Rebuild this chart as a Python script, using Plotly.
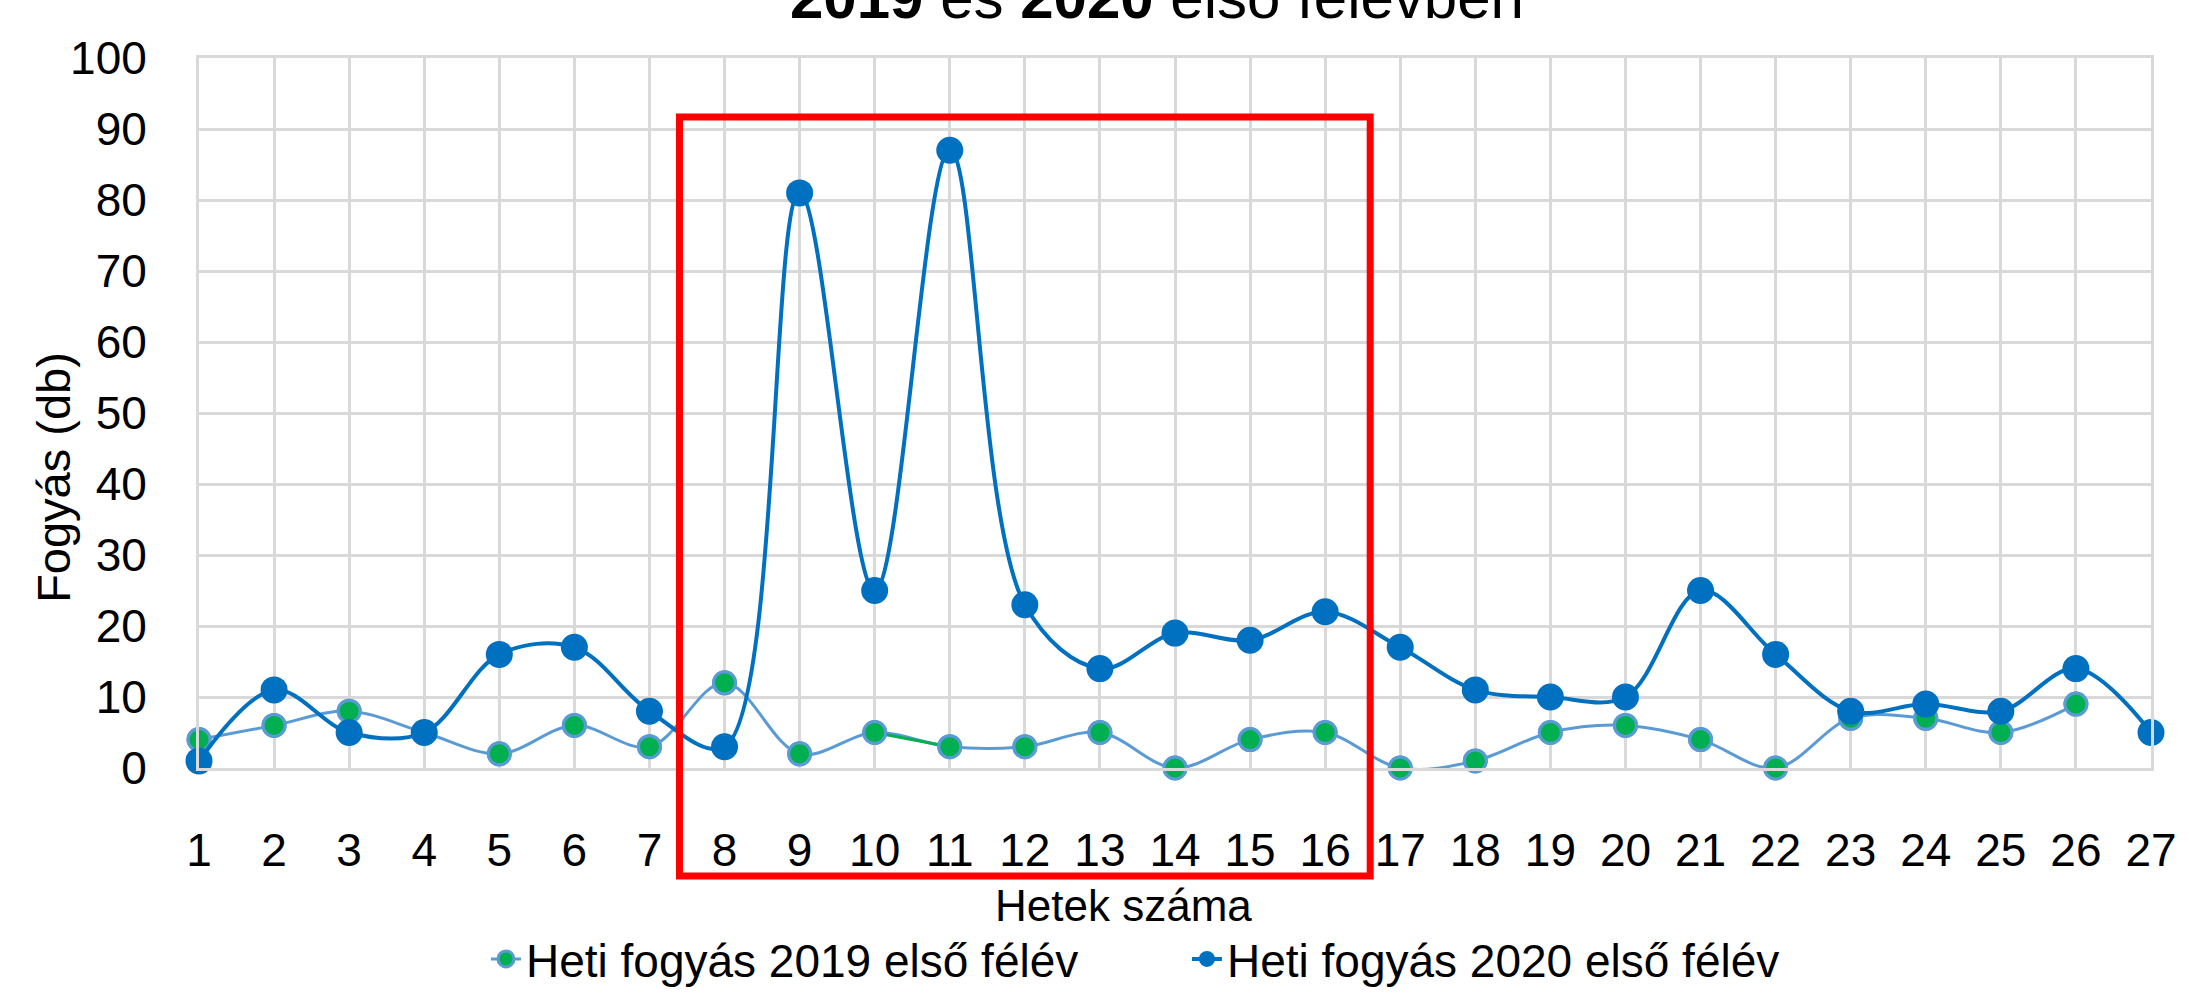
import plotly.graph_objects as go

weeks = list(range(1, 28))
fogyas_2019 = [4, 6, 8, 5, 2, 6, 3, 12, 2, 5, 3, 3, 5, 0, 4, 5, 0, 1, 5, 6, 4, 0, 7, 7, 5, 9]
fogyas_2020 = [1, 11, 5, 5, 16, 17, 8, 3, 81, 25, 87, 23, 14, 19, 18, 22, 17, 11, 10, 10, 25, 16, 8, 9, 8, 14, 5]
y_ticks = list(range(0, 101, 10))
box_weeks = [7.4, 16.6]   # red highlight box, week 8..16

FONT = "Liberation Sans, Arial, sans-serif"
LIGHT = "#5B9BD5"
GREEN = "#00B050"
DARK = "#0070C0"
GRID = "#D9D9D9"

w19 = weeks[:len(fogyas_2019)]

fig = go.Figure()

fig.add_trace(go.Scatter(
    x=w19, y=fogyas_2019, mode="lines+markers",
    name="Heti fogyás 2019 első félév",
    line=dict(color=LIGHT, width=3, shape="spline", smoothing=1),
    marker=dict(color=GREEN, size=22, line=dict(color=LIGHT, width=3)),
    cliponaxis=False,
))
# green segment between week 10 and 11
fig.add_trace(go.Scatter(
    x=w19[9:11], y=fogyas_2019[9:11], mode="lines",
    line=dict(color=GREEN, width=3), showlegend=False, hoverinfo="skip",
    cliponaxis=False,
))
fig.add_trace(go.Scatter(
    x=w19, y=fogyas_2019, mode="markers", showlegend=False,
    marker=dict(color=GREEN, size=22, line=dict(color=LIGHT, width=3)),
    cliponaxis=False,
))
fig.add_trace(go.Scatter(
    x=weeks, y=fogyas_2020, mode="lines+markers",
    name="Heti fogyás 2020 első félév",
    line=dict(color=DARK, width=4, shape="spline", smoothing=1),
    marker=dict(color=DARK, size=27),
    cliponaxis=False,
))

# red box drawn around weeks 8-16
fig.add_shape(type="rect", xref="x", yref="paper",
              x0=box_weeks[0], x1=box_weeks[1], y0=-0.152, y1=0.917,
              line=dict(color="#FF0000", width=7), fillcolor="rgba(0,0,0,0)",
              layer="above")

fig.update_layout(
    width=2189, height=1007,
    margin=dict(l=199, r=24, t=58, b=225),
    paper_bgcolor="white", plot_bgcolor="white",
    font=dict(family=FONT, size=44, color="black"),
    showlegend=True,
    legend=dict(orientation="h", x=0.147, y=-0.269, xanchor="left", yanchor="middle",
                font=dict(size=46), entrywidth=656, bgcolor="rgba(0,0,0,0)"),
    xaxis=dict(range=[1, 27], tickvals=weeks, ticktext=[str(w) for w in weeks],
               showgrid=True, gridcolor=GRID, gridwidth=3,
               showline=True, mirror=True, linecolor=GRID, linewidth=3,
               zeroline=False, tickfont=dict(size=46), ticklabelstandoff=40,
               ticklabeloverflow="allow"),
    yaxis=dict(range=[0, 100], tickvals=y_ticks,
               showgrid=True, gridcolor=GRID, gridwidth=3,
               showline=True, mirror=True, linecolor=GRID, linewidth=3,
               zeroline=False, tickfont=dict(size=46), ticklabelstandoff=40),
    annotations=[
        dict(text="<b>2019</b> és <b>2020</b> első félévben", xref="paper", yref="paper",
             x=0.491, y=1.085, xanchor="center", yanchor="middle", showarrow=False,
             font=dict(size=60)),
        dict(text="Hetek száma", xref="paper", yref="paper", x=0.4736, y=-0.193,
             xanchor="center", yanchor="middle", showarrow=False, font=dict(size=44)),
        dict(text="Fogyás (db)", xref="paper", yref="paper", x=-0.0743, y=0.41,
             xanchor="center", yanchor="middle", textangle=-90, showarrow=False,
             font=dict(size=47)),
    ],
)

fig.write_html("out.html", config={"displayModeBar": False},
               post_script="document.body.style.margin='0';")
